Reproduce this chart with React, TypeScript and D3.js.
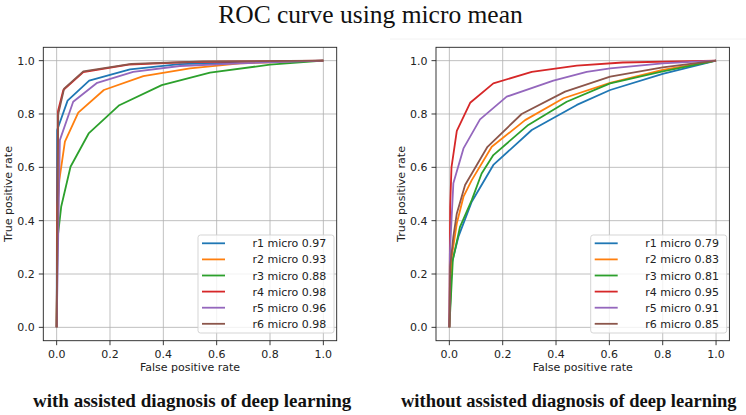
import React from 'react';
import * as d3 from 'd3';

/* ─── Data (FPR, TPR pairs) ─── */
const SERIES_NAMES = ['r1', 'r2', 'r3', 'r4', 'r5', 'r6'];
const COLORS = ['#1f77b4', '#ff7f0e', '#2ca02c', '#d62728', '#9467bd', '#8c564b'];
const AUC_WITH = [0.97, 0.93, 0.88, 0.98, 0.96, 0.98];
const AUC_WITHOUT = [0.79, 0.83, 0.81, 0.95, 0.91, 0.85];
const TICKS = [0, 0.2, 0.4, 0.6, 0.8, 1.0];

type Pt = [number, number];

const WITH_R1: Pt[] = [[0, 0], [0.002, 0.74], [0.041, 0.85], [0.122, 0.925], [0.275, 0.967], [0.462, 0.987], [0.69, 0.993], [1, 1]];
const WITH_R2: Pt[] = [[0, 0], [0.003, 0.45], [0.01, 0.552], [0.031, 0.696], [0.081, 0.805], [0.177, 0.89], [0.325, 0.942], [0.5, 0.971], [0.688, 0.99], [1, 1]];
const WITH_R3: Pt[] = [[0, 0], [0.003, 0.33], [0.017, 0.452], [0.052, 0.602], [0.12, 0.727], [0.235, 0.833], [0.394, 0.908], [0.575, 0.955], [0.8, 0.985], [1, 1]];
const WITH_R4: Pt[] = [[0, 0], [0.005, 0.81], [0.025, 0.89], [0.1, 0.957], [0.27, 0.985], [0.5, 0.995], [1, 1]];
const WITH_R5: Pt[] = [[0, 0], [0.012, 0.702], [0.062, 0.846], [0.152, 0.917], [0.287, 0.958], [0.462, 0.98], [0.69, 0.99], [1, 1]];
const WITH_R6: Pt[] = [[0, 0], [0.006, 0.8], [0.028, 0.895], [0.1, 0.96], [0.28, 0.988], [0.55, 0.997], [1, 1]];

const WITHOUT_R1: Pt[] = [[0, 0], [0.009, 0.24], [0.034, 0.34], [0.084, 0.471], [0.165, 0.609], [0.309, 0.74], [0.478, 0.834], [0.603, 0.89], [0.8, 0.95], [1, 1]];
const WITHOUT_R2: Pt[] = [[0, 0], [0.009, 0.265], [0.028, 0.39], [0.053, 0.49], [0.084, 0.552], [0.159, 0.677], [0.284, 0.777], [0.428, 0.859], [0.603, 0.917], [0.8, 0.965], [1, 1]];
const WITHOUT_R3: Pt[] = [[0, 0], [0.013, 0.252], [0.04, 0.377], [0.084, 0.477], [0.121, 0.577], [0.165, 0.646], [0.296, 0.759], [0.44, 0.846], [0.603, 0.915], [0.8, 0.96], [1, 1]];
const WITHOUT_R4: Pt[] = [[0, 0], [0.003, 0.45], [0.008, 0.6], [0.028, 0.737], [0.078, 0.842], [0.165, 0.915], [0.309, 0.958], [0.478, 0.981], [0.65, 0.993], [1, 1]];
const WITHOUT_R5: Pt[] = [[0, 0], [0.002, 0.28], [0.015, 0.54], [0.053, 0.671], [0.115, 0.78], [0.215, 0.865], [0.39, 0.925], [0.515, 0.958], [0.603, 0.971], [0.8, 0.99], [1, 1]];
const WITHOUT_R6: Pt[] = [[0, 0], [0.003, 0.227], [0.015, 0.34], [0.028, 0.427], [0.059, 0.534], [0.143, 0.677], [0.271, 0.8], [0.434, 0.884], [0.603, 0.94], [0.8, 0.975], [1, 1]];

const WITH_CURVES = [WITH_R1, WITH_R2, WITH_R3, WITH_R4, WITH_R5, WITH_R6];
const WITHOUT_CURVES = [WITHOUT_R1, WITHOUT_R2, WITHOUT_R3, WITHOUT_R4, WITHOUT_R5, WITHOUT_R6];

const SANS = "'DejaVu Sans', sans-serif";
const SERIF = "'Liberation Serif', 'Times New Roman', serif";
const FS = 11;

/* ─── One ROC panel ─── */
function RocPanel({ left, curves, aucs }: { left: number; curves: Pt[][]; aucs: number[] }) {
    const top = 47.3;
    const w = 293.4;
    const h = 293.4;
    const pad = 13.35;
    const x = d3.scaleLinear().domain([0, 1]).range([left + pad, left + w - pad]);
    const y = d3.scaleLinear().domain([0, 1]).range([top + h - pad, top + pad]);
    const line = d3.line<Pt>().x(d => x(d[0])).y(d => y(d[1]));

    const lgW = 136, lgH = 98;
    const lgX = left + w - 2.7 - lgW;
    const lgY = top + h - 7.7 - lgH;

    return (
        <g>
            {/* Grid */}
            {TICKS.map(t => (
                <g key={'g' + t}>
                    <line x1={x(t)} x2={x(t)} y1={top} y2={top + h} stroke="#b0b0b0" strokeWidth={0.8} />
                    <line x1={left} x2={left + w} y1={y(t)} y2={y(t)} stroke="#b0b0b0" strokeWidth={0.8} />
                </g>
            ))}

            {/* Curves */}
            {curves.map((c, i) => (
                <path key={i} d={line(c) || ''} fill="none" stroke={COLORS[i]} strokeWidth={1.8} strokeLinejoin="round" />
            ))}

            {/* Frame */}
            <rect x={left} y={top} width={w} height={h} fill="none" stroke="#222" strokeWidth={0.9} />

            {/* X axis */}
            {TICKS.map(t => (
                <g key={'x' + t}>
                    <line x1={x(t)} x2={x(t)} y1={top + h} y2={top + h + 4.5} stroke="#222" strokeWidth={0.9} />
                    <text x={x(t)} y={top + h + 16.8} textAnchor="middle" fontFamily={SANS} fontSize={FS} fill="#222">{t.toFixed(1)}</text>
                </g>
            ))}
            <text x={left + w / 2} y={top + h + 30} textAnchor="middle" fontFamily={SANS} fontSize={FS} fill="#222">False positive rate</text>

            {/* Y axis */}
            {TICKS.map(t => (
                <g key={'y' + t}>
                    <line x1={left - 4.5} x2={left} y1={y(t)} y2={y(t)} stroke="#222" strokeWidth={0.9} />
                    <text x={left - 8.5} y={y(t) + 4} textAnchor="end" fontFamily={SANS} fontSize={FS} fill="#222">{t.toFixed(1)}</text>
                </g>
            ))}
            <text transform={`translate(${left - 31},${top + h / 2}) rotate(-90)`} textAnchor="middle" fontFamily={SANS} fontSize={FS} fill="#222">True positive rate</text>

            {/* Legend */}
            <rect x={lgX} y={lgY} width={lgW} height={lgH} rx={2.5} fill="#fff" fillOpacity={0.8} stroke="#d0d0d0" strokeWidth={0.9} />
            {SERIES_NAMES.map((n, i) => {
                const ry = lgY + 8.3 + i * 16.1;
                return (
                    <g key={n}>
                        <line x1={lgX + 4} x2={lgX + 27} y1={ry} y2={ry} stroke={COLORS[i]} strokeWidth={1.8} />
                        <text x={lgX + 54.5} y={ry + 4} fontFamily={SANS} fontSize={FS} fill="#222">{`${n} micro ${aucs[i].toFixed(2)}`}</text>
                    </g>
                );
            })}
        </g>
    );
}

export default function App() {
    return (
        <svg width={746} height={415} style={{ position: 'absolute', left: 0, top: 0, background: '#fff' }}>
            <rect width={746} height={415} fill="#fff" />
            <line x1={390} x2={746} y1={39} y2={39} stroke="#f2f2f2" strokeWidth={1} />
            <text x={370.5} y={23} textAnchor="middle" fontFamily={SERIF} fontSize={25.5} fill="#111">ROC curve using micro mean</text>

            <RocPanel left={43.3} curves={WITH_CURVES} aucs={AUC_WITH} />
            <RocPanel left={436} curves={WITHOUT_CURVES} aucs={AUC_WITHOUT} />

            <text x={33} y={407} fontFamily={SERIF} fontWeight="bold" fontSize={19} fill="#111">with assisted diagnosis of deep learning</text>
            <text x={401} y={407} fontFamily={SERIF} fontWeight="bold" fontSize={18.5} fill="#111">without assisted diagnosis of deep learning</text>
        </svg>
    );
}
